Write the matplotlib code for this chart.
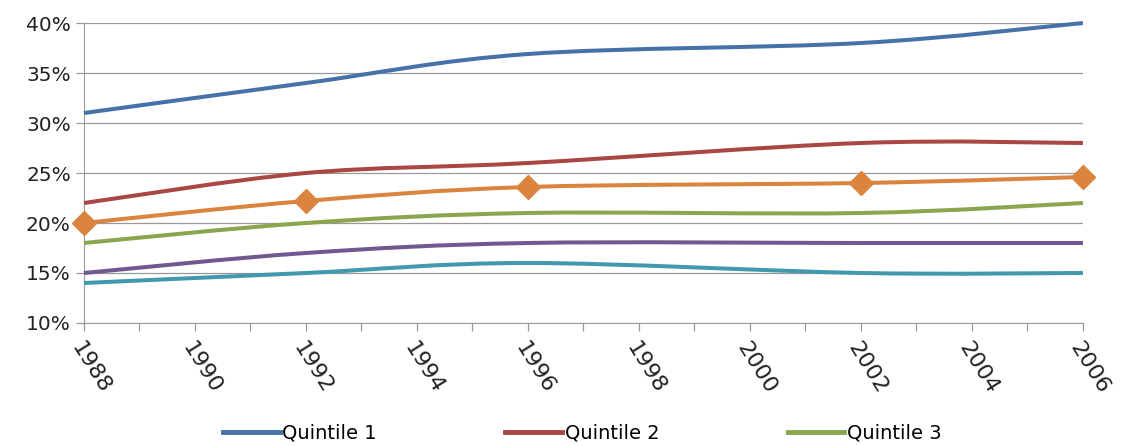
import matplotlib
matplotlib.use("Agg")
import matplotlib.pyplot as plt
import numpy as np
from matplotlib.path import Path
from matplotlib.patches import PathPatch
from matplotlib.lines import Line2D
from matplotlib.ticker import PercentFormatter

# data (share, %)
years = [1988, 1992, 1996, 2002, 2006]
q1 = [31.0, 34.0, 36.9, 38.0, 40.0]
q2 = [22.0, 25.0, 26.0, 28.0, 28.0]
q3 = [18.0, 20.0, 21.0, 21.0, 22.0]
q4 = [15.0, 17.0, 18.0, 18.0, 18.0]
q5 = [14.0, 15.0, 16.0, 15.0, 15.0]
avg = [20.0, 22.2, 23.6, 24.0, 24.6]

names = ["Quintile 1", "Quintile 2", "Quintile 3", "Quintile 4", "Quintile 5", "Average"]
colors = ["#4572A7", "#AA4643", "#89A54E", "#71588F", "#4198AF", "#DB843D"]
year_ticks = list(range(1988, 2007))


def smooth_path(x, y):
    """Excel-style smoothed line: Catmull-Rom as cubic Bezier segments."""
    p = np.column_stack([x, y]).astype(float)
    ext = np.vstack([p[0], p, p[-1]])
    verts = [p[0]]
    codes = [Path.MOVETO]
    for i in range(len(p) - 1):
        p0, p1, p2, p3 = ext[i], ext[i + 1], ext[i + 2], ext[i + 3]
        verts += [p1 + (p2 - p0) / 6, p2 - (p3 - p1) / 6, p2]
        codes += [Path.CURVE4] * 3
    return Path(verts, codes)


fig = plt.figure(figsize=(11.33, 4.46), dpi=100)
ax = fig.add_axes([0.0741, 0.2758, 0.8817, 0.6726])

for vals, col in zip([q1, q2, avg, q3, q4, q5], [colors[0], colors[1], colors[5], colors[2], colors[3], colors[4]]):
    ax.add_patch(PathPatch(smooth_path(years, vals), fill=False, edgecolor=col,
                           lw=2.9, capstyle="butt", clip_on=False, zorder=3))
ax.plot(years, avg, "D", color=colors[5], ms=12, clip_on=False, zorder=4)

ax.set_xlim(1988, 2006)
ax.set_ylim(10, 40)
ax.set_yticks(range(10, 41, 5))
ax.yaxis.set_major_formatter(PercentFormatter(decimals=0))
ax.set_xticks(year_ticks)
ax.set_xticklabels([str(y) if y % 2 == 0 else "" for y in year_ticks],
                   rotation=-58, ha="left", va="top", rotation_mode="anchor", fontsize=16)
ax.grid(axis="y", color="#999999", lw=0.9)
ax.set_axisbelow(True)
for s in ("top", "right"):
    ax.spines[s].set_visible(False)
for s in ("left", "bottom"):
    ax.spines[s].set_color("#999999")
ax.tick_params(axis="both", color="#999999", length=6, width=0.9, labelcolor="#222222")
ax.tick_params(axis="y", labelsize=14.5)
ax.tick_params(axis="x", pad=5)

# legend: only the first row is inside the canvas in the reference
handles = [Line2D([], [], color=colors[i], lw=3.5) for i in range(3)]
fig.legend(handles, names[:3], loc="upper center", ncol=3,
           bbox_to_anchor=(0.514, 0.072), frameon=False, fontsize=14,
           handlelength=2.9, handletextpad=0.15, columnspacing=6.6, borderpad=0)

fig.savefig("out.png", dpi=100)
